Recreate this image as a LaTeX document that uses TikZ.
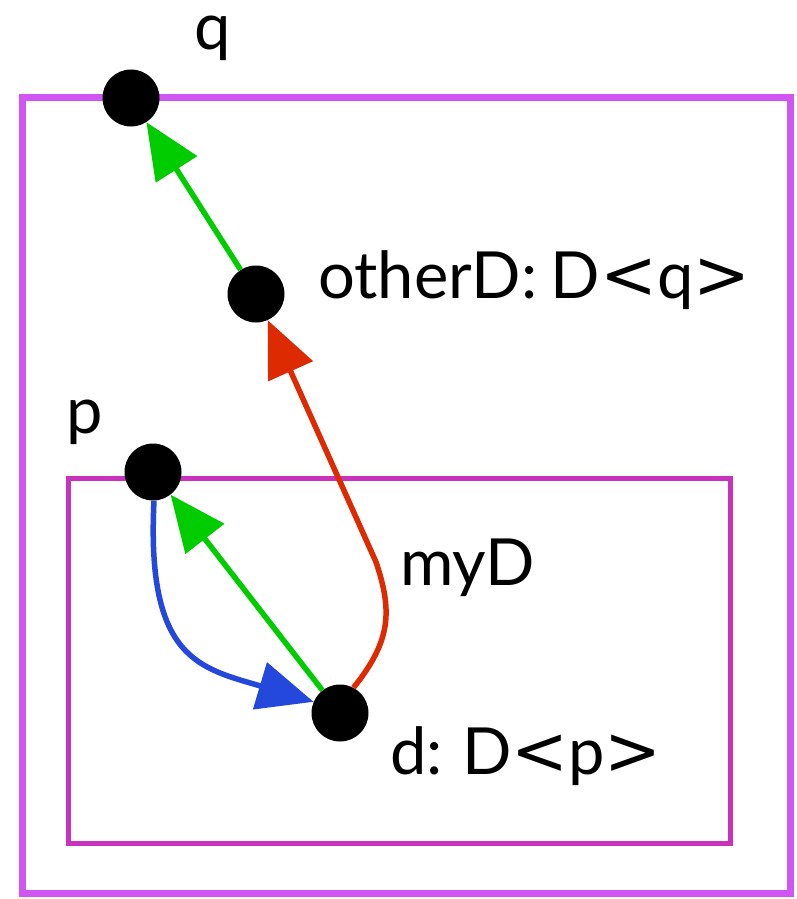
\documentclass[tikz,border=0pt]{standalone}
\usepackage{fontspec}
\setmainfont{Lato}
\newfontfamily\symfont{DejaVu Sans}
\usetikzlibrary{arrows.meta}
\definecolor{outerc}{HTML}{D055F2}
\definecolor{innerc}{HTML}{C832BE}
\definecolor{greenc}{HTML}{00CC00}
\definecolor{redc}{HTML}{DD2A00}
\definecolor{bluec}{HTML}{2448DC}
\newcommand\mylt{{\symfont\fontsize{68}{68}\selectfont<}}
\newcommand\mygt{{\symfont\fontsize{68}{68}\selectfont>}}
\tikzset{
  dot/.style={circle,fill=black,minimum size=57pt,inner sep=0pt},
  lbl/.style={font=\fontsize{65}{72}\selectfont,inner sep=0pt},
  conn/.style={line width=5.5pt,-{Triangle[length=56pt,width=48pt]}},
}
\begin{document}
\begin{tikzpicture}[x=1pt,y=-1pt]
\useasboundingbox (0,0) rectangle (796,899);
\draw[outerc,line width=7pt] (22,97) rectangle (790,893);
\draw[innerc,line width=5pt] (68,478) rectangle (730,843);
\node[dot] (q) at (131,98) {};
\node[dot] (o) at (256,294) {};
\node[dot] (p) at (153,472) {};
\node[dot] (d) at (340,713) {};
\node[lbl,text height=30pt] (lq) at (213,40) {q};
\node[lbl,anchor=west] (lo) at (318,280) {otherD:\hspace{-3pt} D\mylt q\mygt};
\node[lbl] (lp) at (85,422) {p};
\node[lbl,anchor=west] (lm) at (400,568) {myD};
\node[lbl,anchor=west] (ld) at (390,756) {d:\hspace{-3pt} D\mylt p\mygt};
\draw[conn,greenc] (o) -- (q);
\draw[conn,greenc] (d) -- (p);
\draw[conn,redc] (d.62) .. controls (392,640) and (392,610) .. (376,562) -- (o);
\draw[conn,bluec] (p.-88) .. controls (146,660) and (200,668) .. (d.157);
\end{tikzpicture}
\end{document}
